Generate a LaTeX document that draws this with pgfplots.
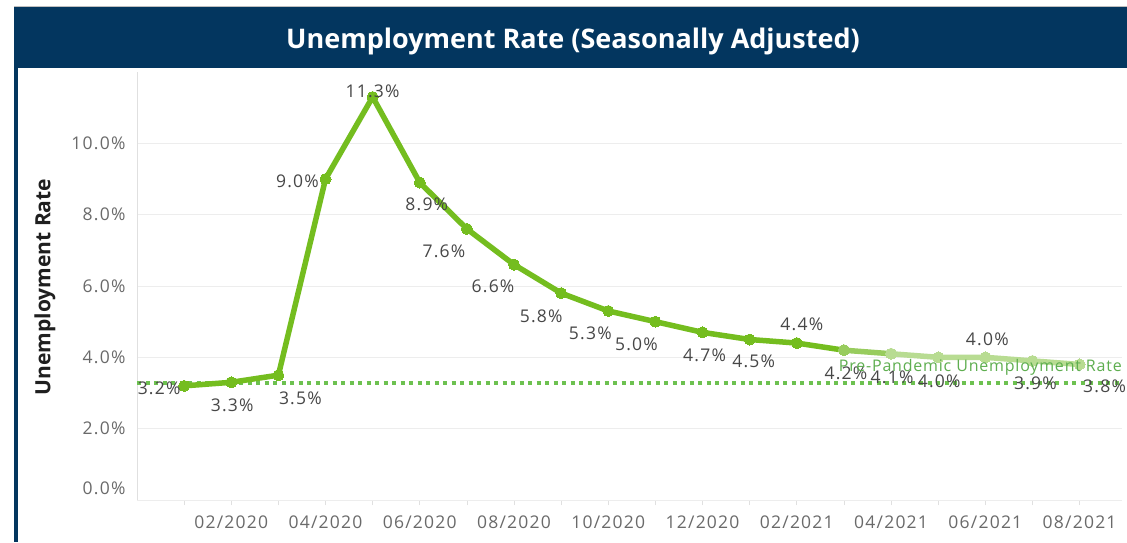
\documentclass[border=0pt]{standalone}
\usepackage{fontspec}
\setmainfont{Open Sans}
\newfontfamily\tabfont[LetterSpace=7]{Open Sans}
\newfontfamily\labfont[LetterSpace=5]{Open Sans}
\usepackage{pgfplots}
\pgfplotsset{compat=1.18}
\definecolor{navy}{HTML}{03365F}
\definecolor{gdark}{HTML}{74BD1F}
\definecolor{gmid}{HTML}{98CC5E}
\definecolor{glight}{HTML}{B8DC92}
\definecolor{gref}{HTML}{6DC150}
\definecolor{greflab}{HTML}{5EAE4F}
\definecolor{ticktxt}{HTML}{6A6A6A}
\definecolor{labtxt}{HTML}{474747}
\begin{document}
\begin{tikzpicture}[x=1pt,y=1pt]
\path[use as bounding box] (0,0) rectangle (1127,542);
\fill[white] (0,0) rectangle (1127,542);
\fill[navy] (14,474) rectangle (1127,535);
\fill[navy] (14,0) rectangle (18,474);
\draw[black!25, line width=0.8pt] (14,535.5) -- (1127,535.5);
\node[text=white, font=\bfseries\fontsize{27}{32}\selectfont] at (573,501) {Unemployment Rate (Seasonally Adjusted)};
\node[rotate=90, text=black!88, font=\bfseries\fontsize{21}{25}\selectfont] at (45,255) {Unemployment Rate};
\begin{axis}[
  at={(137pt,42pt)}, anchor=south west,
  width=985pt, height=428pt, scale only axis,
  xmin=-1, xmax=19.9, ymin=0, ymax=12,
  axis x line*=bottom, axis y line*=left,
  axis line style={-, draw=black!12, line width=0.8pt},
  xtick={1,3,...,19},
  xticklabels={02/2020,04/2020,06/2020,08/2020,10/2020,12/2020,02/2021,04/2021,06/2021,08/2021},
  minor xtick={0,2,...,18},
  tick align=outside,
  major tick length=5pt, minor tick length=5pt,
  every tick/.style={draw=black!12, line width=0.8pt},
  ytick={2,4,6,8,10},
  yticklabels={2.0\%,4.0\%,6.0\%,8.0\%,10.0\%},
  extra y ticks={0},
  extra y tick labels={0.0\%},
  extra y tick style={yticklabel style={yshift=12pt}},
  ytick style={draw=none},
  ymajorgrids, grid style={draw=black!7, line width=0.8pt},
  tick label style={font=\tabfont\fontsize{17.5}{20}\selectfont, text=ticktxt},
  yticklabel style={xshift=-3pt},
  xticklabel style={yshift=-7pt},
  clip=false,
]
\addplot[gref, line width=4pt, dash pattern=on 4pt off 4.5pt] coordinates {(-1,3.27) (19.9,3.27)};
\addplot[gdark, line width=5.5pt, mark=*, mark size=5.5pt, mark options={solid, fill=gdark, draw=gdark, line width=0pt}] coordinates {
(0,3.2) (1,3.3) (2,3.5) (3,9.0) (4,11.3) (5,8.9) (6,7.6) (7,6.6) (8,5.8) (9,5.3) (10,5.0) (11,4.7) (12,4.5) (13,4.4) (14,4.2)};
\addplot[gmid, line width=5.5pt, mark=*, mark size=5.5pt, mark options={solid, fill=gmid, draw=gmid, line width=0pt}] coordinates {(14,4.2) (15,4.1)};
\addplot[glight, line width=5.5pt, mark=*, mark size=5.5pt, mark options={solid, fill=glight, draw=glight, line width=0pt}] coordinates {
(15,4.1) (16,4.0) (17,4.0) (18,3.9) (19,3.8)};
\addplot[draw=none, mark=none, nodes near coords, point meta=explicit symbolic,
  visualization depends on={\thisrow{dx}\as\dx},
  visualization depends on={\thisrow{dy}\as\dy},
  every node near coord/.append style={anchor=center, inner sep=0pt, xshift=\dx pt, yshift=\dy pt, font=\tabfont\fontsize{17.5}{20}\selectfont, text=labtxt}]
table[x=x, y=y, meta=lab] {
x y dx dy lab
0 3.2 -25 -2 3.2\%
1 3.3 1 -23 3.3\%
2 3.5 22 -23 3.5\%
3 9.0 -28 -2 9.0\%
4 11.3 0 6 11.3\%
5 8.9 7 -22 8.9\%
6 7.6 -23 -22 7.6\%
7 6.6 -21 -22 6.6\%
8 5.8 -20 -23 5.8\%
9 5.3 -18 -22 5.3\%
10 5.0 -19 -23 5.0\%
11 4.7 2 -23 4.7\%
12 4.5 4 -22 4.5\%
13 4.4 5 19 4.4\%
14 4.2 2 -23 4.2\%
15 4.1 1 -24 4.1\%
16 4.0 1 -24 4.0\%
17 4.0 2 18 4.0\%
18 3.9 3 -22 3.9\%
19 3.8 25 -22 3.8\%
};
\end{axis}
\node[anchor=east, inner sep=0pt, text=greflab, font=\labfont\fontsize{16}{20}\selectfont] at (1122,175) {Pre-Pandemic Unemployment Rate};
\end{tikzpicture}
\end{document}
